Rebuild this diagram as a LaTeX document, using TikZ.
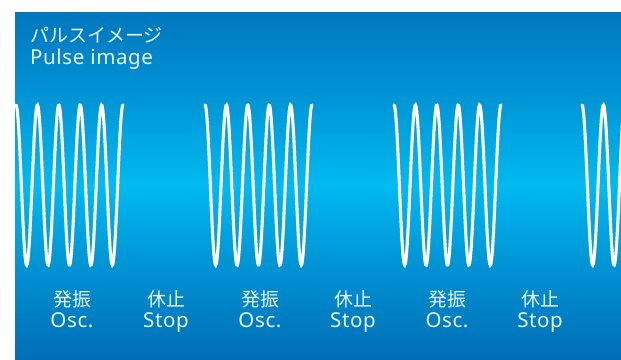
\documentclass[tikz,border=0pt]{standalone}
\usepackage{fontspec}
\setmainfont[LetterSpace=3]{Noto Sans}
\newfontfamily\jfont{Noto Sans CJK JP}
\definecolor{bgA}{RGB}{0,118,190}
\definecolor{bgB}{RGB}{0,150,214}
\definecolor{bgC}{RGB}{0,186,240}
\definecolor{bgD}{RGB}{0,145,210}
\definecolor{bgE}{RGB}{0,110,182}
\definecolor{txt}{RGB}{235,245,252}
\tikzset{
  lbl/.style={text=txt, font=\fontsize{20.5}{22}\selectfont, inner sep=0pt, anchor=base},
  lblj/.style={lbl, font=\jfont\fontsize{19}{21}\selectfont},
  ttl/.style={text=txt, font=\fontsize{20.5}{22}\selectfont, inner sep=0pt, anchor=base west},
  ttlj/.style={ttl, font=\jfont\fontsize{19}{21}\selectfont},
  wave/.style={white, line width=3.1pt, line cap=round}
}
\begin{document}
\begin{tikzpicture}[x=1pt,y=-1pt]
\useasboundingbox (0,0) rectangle (621,359);
\fill[white] (0,0) rectangle (621,359);
\shade[top color=bgA, bottom color=bgB] (15,12) rectangle (621,100.5);
\shade[top color=bgB, bottom color=bgC] (15,100) rectangle (621,185.5);
\shade[top color=bgC, bottom color=bgD] (15,185) rectangle (621,270.5);
\shade[top color=bgD, bottom color=bgE] (15,270) rectangle (621,359);
\begin{scope}
\clip (15,12) rectangle (621,359);
\foreach \xs in {16,205,394,582}{
  \draw[wave] plot[domain=0:107, samples=200] ({\xs+\x},{185-80*cos(\x/21.4*360)});
}
\end{scope}
\node[ttlj] (tj) at (30,42) {パルスイメージ};
\node[ttl] (te) at (30,64) {Pulse image};
\node[lblj] (o1j) at (72,306) {発振};
\node[lbl] (o1e) at (72,327) {Osc.};
\node[lblj] (s1j) at (166,306) {休止};
\node[lbl] (s1e) at (166,327) {Stop};
\node[lblj] (o2j) at (260,306) {発振};
\node[lbl] (o2e) at (260,327) {Osc.};
\node[lblj] (s2j) at (353,306) {休止};
\node[lbl] (s2e) at (353,327) {Stop};
\node[lblj] (o3j) at (447,306) {発振};
\node[lbl] (o3e) at (447,327) {Osc.};
\node[lblj] (s3j) at (540,306) {休止};
\node[lbl] (s3e) at (540,327) {Stop};
\end{tikzpicture}
\end{document}
